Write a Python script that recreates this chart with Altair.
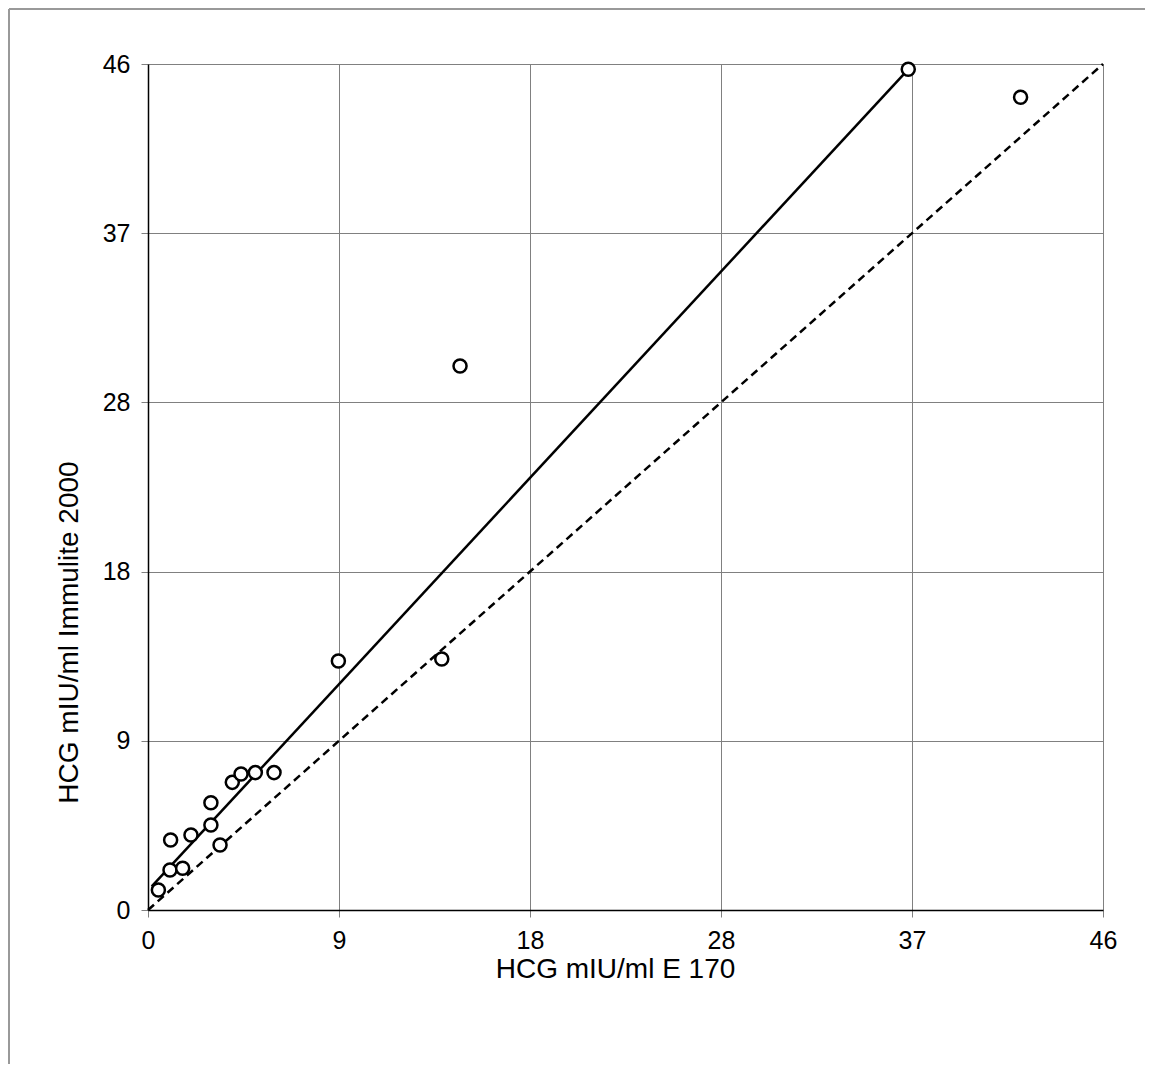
import altair as alt
import pandas as pd

# Data
e170 = [0.50, 1.06, 1.67, 1.09, 2.07, 3.03, 3.03, 3.47, 4.06, 4.48, 5.17, 6.07,
        9.17, 14.15, 15.03, 36.62, 42.03]
immulite = [1.09, 2.17, 2.27, 3.81, 4.08, 4.62, 5.83, 3.53, 6.94, 7.39, 7.47, 7.47,
            13.54, 13.65, 29.58, 45.71, 44.19]
reg_x = [0.18, 36.62]
reg_y = [1.28, 45.71]
ident = [0, 46]
tick_vals = [0, 9.2, 18.4, 27.6, 36.8, 46]

pts = pd.DataFrame({"x": e170, "y": immulite})
reg = pd.DataFrame({"x": reg_x, "y": reg_y})
idn = pd.DataFrame({"x": ident, "y": ident})

FONT = "Liberation Sans"

xsc = alt.Scale(domain=[0, 46], nice=False, zero=False)
ysc = alt.Scale(domain=[0, 46], nice=False, zero=False)

common = dict(values=tick_vals, format=".0f", grid=True, gridColor="#808080", gridWidth=1,
              domainColor="black", domainWidth=1.5,
              tickColor="#808080", tickSize=7, labelPadding=11, labelFlush=False,
              labelFont=FONT, labelFontSize=25, labelColor="black",
              titleFont=FONT, titleFontSize=28, titleFontWeight="normal",
              titleColor="black")
xax = alt.Axis(title="HCG mIU/ml E 170", titlePadding=2, titleX=467, **common)
yax = alt.Axis(title="HCG mIU/ml Immulite 2000", titlePadding=19, titleY=568, **common)

one = pd.DataFrame({"a": [0]})
border_left = alt.Chart(one).mark_rule(color="#999999", strokeWidth=2).encode(
    x=alt.value(-139), y=alt.value(-55), y2=alt.value(2000))
border_top = alt.Chart(one).mark_rule(color="#999999", strokeWidth=2).encode(
    x=alt.value(-139), x2=alt.value(2000), y=alt.value(-55))

identity = alt.Chart(idn).mark_line(color="black", strokeWidth=2.5, strokeDash=[8, 5]).encode(
    x=alt.X("x:Q", scale=xsc, axis=xax), y=alt.Y("y:Q", scale=ysc, axis=yax))

regline = alt.Chart(reg).mark_line(color="black", strokeWidth=2.5).encode(
    x=alt.X("x:Q", scale=xsc), y=alt.Y("y:Q", scale=ysc))

points = alt.Chart(pts).mark_point(shape="circle", filled=True, fill="white",
                                   stroke="black", strokeWidth=2.5, size=170, opacity=1).encode(
    x=alt.X("x:Q", scale=xsc), y=alt.Y("y:Q", scale=ysc))

chart = alt.layer(border_left, border_top, identity, regline, points).properties(
    width=955, height=846,
    autosize=alt.AutoSizeParams(type="none"),
    padding={"left": 140, "top": 56, "right": 42, "bottom": 154},
).configure_view(stroke="black", strokeWidth=1.5).configure(background="white")

chart.save("out.html", embed_options={"renderer": "svg", "actions": False})
